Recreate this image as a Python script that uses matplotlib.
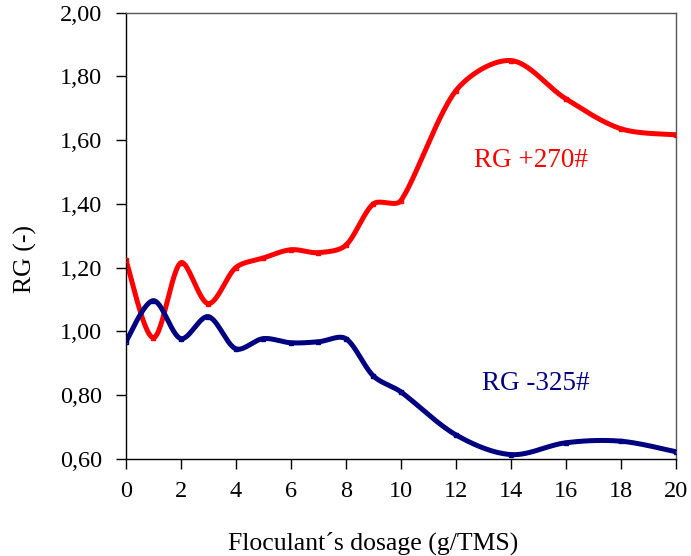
import numpy as np
from matplotlib import pyplot as plt
from matplotlib.ticker import FuncFormatter

# data
dosage = [0, 1, 2, 3, 4, 5, 6, 7, 8, 9, 10, 12, 14, 16, 18, 20]
rg_270 = [1.225, 0.98, 1.215, 1.087, 1.20, 1.23, 1.256, 1.247, 1.27, 1.40, 1.41,
          1.755, 1.85, 1.73, 1.636, 1.617]
rg_325 = [0.967, 1.096, 0.977, 1.046, 0.945, 0.977, 0.964, 0.967, 0.977, 0.86, 0.81,
          0.675, 0.613, 0.65, 0.655, 0.622]


def smooth(x, y, n=30, yscale=11.6):
    # Bezier curve through the points, roughly like Excel's smoothed line
    x = np.asarray(x, float)
    y = np.asarray(y, float)
    px = np.concatenate([[x[0]], x, [x[-1]]])
    py = np.concatenate([[y[0]], y, [y[-1]]])
    pts = np.column_stack([px, py])

    def dist(a, b):
        return np.hypot(a[0] - b[0], (a[1] - b[1]) * yscale)

    xs, ys = [], []
    t = np.linspace(0, 1, n)
    for i in range(1, len(px) - 2):
        p0, p1, p2, p3 = pts[i - 1], pts[i], pts[i + 1], pts[i + 2]
        d01, d12, d23 = dist(p0, p1), dist(p1, p2), dist(p2, p3)
        f1 = min(1, 2 * d12 / (d01 + d12)) if d01 + d12 > 0 else 1
        f2 = min(1, 2 * d12 / (d12 + d23)) if d12 + d23 > 0 else 1
        c1 = p1 + (p2 - p0) / 6 * f1
        c2 = p2 - (p3 - p1) / 6 * f2
        b = ((1 - t) ** 3)[:, None] * p1 + (3 * (1 - t) ** 2 * t)[:, None] * c1 \
            + (3 * (1 - t) * t ** 2)[:, None] * c2 + (t ** 3)[:, None] * p2
        xs.extend(b[:, 0])
        ys.extend(b[:, 1])
    return xs, ys


plt.rcParams['font.family'] = 'Liberation Serif'

fig, ax = plt.subplots(figsize=(6.91, 5.56), dpi=100)
fig.subplots_adjust(left=0.182, right=0.978, top=0.977, bottom=0.175)

for y, col in [(rg_270, '#ff0000'), (rg_325, '#000080')]:
    sx, sy = smooth(dosage, y)
    ax.plot(sx, sy, color=col, lw=3.6, solid_capstyle='round', zorder=2)
    ax.plot(dosage, y, ls='none', marker='s', ms=3, mfc='none', mec=col, mew=1, zorder=3)

ax.set_xlim(0, 20)
ax.set_ylim(0.6, 2.0)
ax.set_xticks(np.arange(0, 21, 2))
ax.set_yticks(np.arange(0.6, 2.01, 0.2))
ax.yaxis.set_major_formatter(FuncFormatter(lambda v, p: f'{v:.2f}'.replace('.', ',')))
ax.tick_params(direction='out', length=7, width=1, labelsize=17.5)
ax.tick_params(axis='y', pad=10)
ax.tick_params(axis='x', pad=9)
for s in ax.spines.values():
    s.set_linewidth(1)
ax.spines['top'].set_color('#555555')
ax.spines['right'].set_color('#555555')

ax.set_xlabel('Floculant´s dosage (g/TMS)', fontsize=18.5)
ax.xaxis.set_label_coords(0.449, -0.163)
ax.set_ylabel('RG (-)', fontsize=18.5)
ax.yaxis.set_label_coords(-0.162, 0.448)

ax.text(14.72, 1.536, 'RG +270#', color='#ff0000', fontsize=19.5, ha='center', va='center')
ax.text(14.92, 0.835, 'RG -325#', color='#000080', fontsize=19.5, ha='center', va='center')

plt.savefig('out.png')
